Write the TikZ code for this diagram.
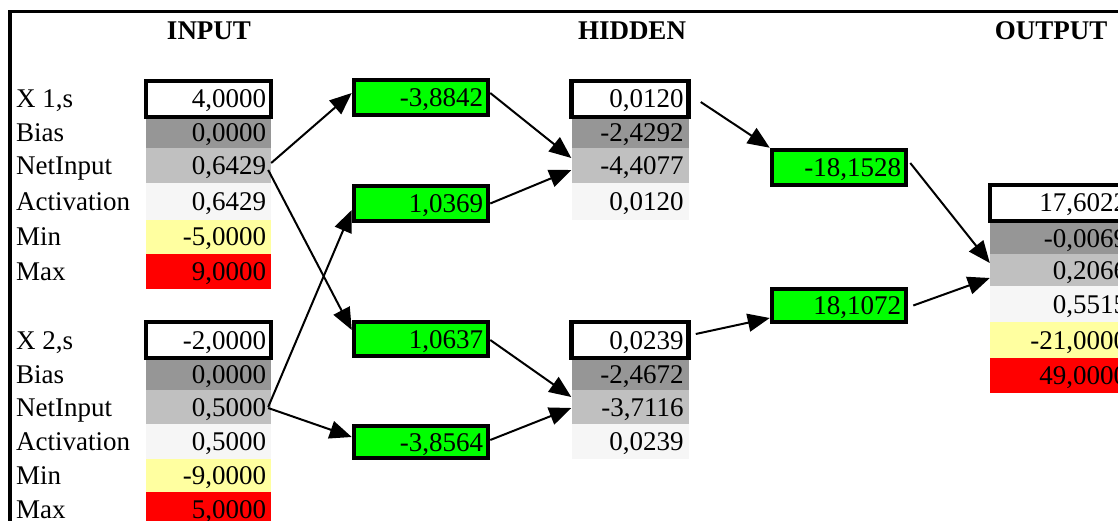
\documentclass[tikz,border=0pt]{standalone}
\usepackage{fontspec}
\setmainfont{Liberation Serif}
\usetikzlibrary{arrows.meta}
\definecolor{biasgray}{RGB}{150,150,150}
\definecolor{netgray}{RGB}{192,192,192}
\definecolor{actgray}{RGB}{246,246,246}
\definecolor{minyellow}{RGB}{255,255,160}
\definecolor{maxred}{RGB}{255,0,0}
\definecolor{wgreen}{RGB}{0,255,0}
\tikzset{
  txt/.style={font=\fontsize{27}{27}\selectfont, text height=22pt, text depth=4pt, inner sep=0pt},
  cellbase/.style={txt, rectangle, inner xsep=5pt, inner ysep=0pt, align=right},
  incell/.style={cellbase, text width=115pt},
  hidcell/.style={cellbase, text width=107pt},
  outcell/.style={cellbase, text width=132pt},
  boxed/.style={draw=black, line width=4.5pt, fill=white},
  wbox/.style={cellbase, text width=124pt, draw=black, line width=4.5pt, fill=wgreen},
  biasc/.style={fill=biasgray},
  netc/.style={fill=netgray},
  actc/.style={fill=actgray},
  minc/.style={fill=minyellow},
  maxc/.style={fill=maxred},
  rowlabel/.style={txt, anchor=west},
  header/.style={font=\fontsize{27}{27}\selectfont\bfseries, inner sep=0pt},
  conn/.style={line width=2pt, -{Triangle[length=22pt,width=18pt]}}
}
\begin{document}
\begin{tikzpicture}[x=1pt,y=-1pt]
\useasboundingbox (0,0) rectangle (1118,521);
\clip (0,0) rectangle (1118,521);

% frame
\draw[line width=3.5pt] (10,530) -- (10,11.5) -- (1125,11.5);

% column headings
\node[header] (hin)  at (209,31)  {INPUT};
\node[header] (hhid) at (632,31)  {HIDDEN};
\node[header] (hout) at (1051,31) {OUTPUT};

% row labels
\node[rowlabel] (l1x)  at (16,99)    {X 1,s};
\node[rowlabel] (l1b)  at (16,132.5) {Bias};
\node[rowlabel] (l1n)  at (16,165.5) {NetInput};
\node[rowlabel] (l1a)  at (16,201.5) {Activation};
\node[rowlabel] (l1mn) at (16,237)   {Min};
\node[rowlabel] (l1mx) at (16,271.5) {Max};
\node[rowlabel] (l2x)  at (16,340)   {X 2,s};
\node[rowlabel] (l2b)  at (16,374)   {Bias};
\node[rowlabel] (l2n)  at (16,407)   {NetInput};
\node[rowlabel] (l2a)  at (16,441.5) {Activation};
\node[rowlabel] (l2mn) at (16,475.5) {Min};
\node[rowlabel] (l2mx) at (16,509)   {Max};

% input neuron 1
\node[incell, biasc, minimum height=31pt] (in1b)  at (208.5,132.5) {0,0000};
\node[incell, netc,  minimum height=35pt] (in1n)  at (208.5,165.5) {0,6429};
\node[incell, actc,  minimum height=37pt] (in1a)  at (208.5,201.5) {0,6429};
\node[incell, minc,  minimum height=34pt] (in1mn) at (208.5,237)   {-5,0000};
\node[incell, maxc,  minimum height=35pt] (in1mx) at (208.5,271.5) {9,0000};
\node[incell, boxed, minimum height=36pt] (in1x)  at (208.5,99)    {4,0000};

% input neuron 2
\node[incell, biasc, minimum height=32pt] (in2b)  at (208.5,374)   {0,0000};
\node[incell, netc,  minimum height=34pt] (in2n)  at (208.5,407)   {0,5000};
\node[incell, actc,  minimum height=35pt] (in2a)  at (208.5,441.5) {0,5000};
\node[incell, minc,  minimum height=33pt] (in2mn) at (208.5,475.5) {-9,0000};
\node[incell, maxc,  minimum height=34pt] (in2mx) at (208.5,509)   {5,0000};
\node[incell, boxed, minimum height=36pt] (in2x)  at (208.5,340)   {-2,0000};

% input-to-hidden weights
\node[wbox, minimum height=35pt] (w1) at (421,97.5)  {-3,8842};
\node[wbox, minimum height=35pt] (w2) at (421,203.5) {1,0369};
\node[wbox, minimum height=34pt] (w3) at (421,339)   {1,0637};
\node[wbox, minimum height=32pt] (w4) at (421,442)   {-3,8564};

% hidden neuron 1
\node[hidcell, biasc, minimum height=31pt] (h1b) at (630,132.5) {-2,4292};
\node[hidcell, netc,  minimum height=35pt] (h1n) at (630,165.5) {-4,4077};
\node[hidcell, actc,  minimum height=37pt] (h1a) at (630,201.5) {0,0120};
\node[hidcell, boxed, minimum height=36pt] (h1x) at (630,99)    {0,0120};

% hidden neuron 2
\node[hidcell, biasc, minimum height=32pt] (h2b) at (630,374)   {-2,4672};
\node[hidcell, netc,  minimum height=34pt] (h2n) at (630,407)   {-3,7116};
\node[hidcell, actc,  minimum height=35pt] (h2a) at (630,441.5) {0,0239};
\node[hidcell, boxed, minimum height=36pt] (h2x) at (630,340)   {0,0239};

% hidden-to-output weights
\node[wbox, minimum height=35pt] (ow1) at (839,167.5) {-18,1528};
\node[wbox, minimum height=33pt] (ow2) at (839,305.5) {18,1072};

% output neuron
\node[outcell, biasc, minimum height=31pt] (ob)  at (1061,238.5) {-0,0069};
\node[outcell, netc,  minimum height=32pt] (on)  at (1061,270)   {0,2066};
\node[outcell, actc,  minimum height=36pt] (oa)  at (1061,304)   {0,5515};
\node[outcell, minc,  minimum height=36pt] (omn) at (1061,340)   {-21,0000};
\node[outcell, maxc,  minimum height=35pt] (omx) at (1061,375.5) {49,0000};
\node[outcell, boxed, minimum height=36pt] (ox)  at (1061,203)   {17,6022};

% connections: input -> weights
\draw[conn] ([yshift=2.5pt]in1n.east) -- ([yshift=4.5pt]w1.west);
\draw[conn] ([xshift=-3pt,yshift=-4.5pt]in1n.east) -- ([yshift=9pt]w3.west);
\draw[conn] ([xshift=-3pt]in2n.east) -- ([yshift=-6.5pt]w2.west);
\draw[conn] ([xshift=-3pt,yshift=-1pt]in2n.east) -- ([yshift=5pt]w4.west);

% weights -> hidden
\draw[conn] ([yshift=4.5pt]w1.east) -- ([yshift=7.5pt]h1n.west);
\draw[conn] (w2.east) -- ([yshift=-4.5pt]h1n.west);
\draw[conn] ([yshift=-1pt]w3.east) -- ([yshift=10pt]h2n.west);
\draw[conn] ([yshift=2pt]w4.east) -- ([yshift=-1pt]h2n.west);

% hidden -> output weights
\draw[conn] ([xshift=10pt,yshift=-3pt]h1x.east) -- (ow1.north west);
\draw[conn] ([xshift=5pt,yshift=6pt]h2x.east) -- ([yshift=-12.5pt]ow2.west);

% output weights -> output
\draw[conn] ([xshift=2pt,yshift=4.5pt]ow1.east) -- ([yshift=7pt]on.west);
\draw[conn] ([xshift=5pt]ow2.east) -- ([yshift=-8pt]on.west);
\end{tikzpicture}
\end{document}
